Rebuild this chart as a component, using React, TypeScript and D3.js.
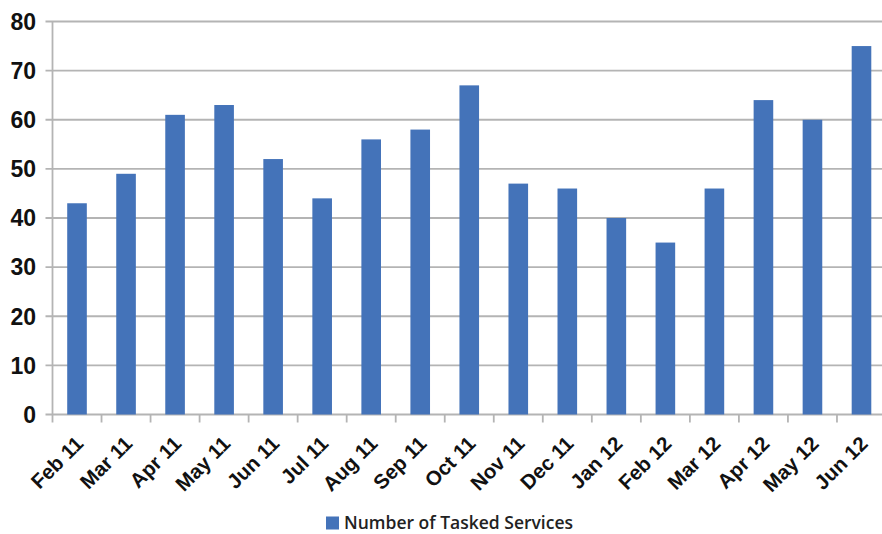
import React from "react";
import * as d3 from "d3";

const categories = ["Feb 11","Mar 11","Apr 11","May 11","Jun 11","Jul 11","Aug 11","Sep 11","Oct 11","Nov 11","Dec 11","Jan 12","Feb 12","Mar 12","Apr 12","May 12","Jun 12"];
const values = [43,49,61,63,52,44,56,58,67,47,46,40,35,46,64,60,75];
const yTicks = [0,10,20,30,40,50,60,70,80];
const seriesName = "Number of Tasked Services";

const W = 882, H = 534;
const left = 52.5, right = 886, top = 21.5, bottom = 414.5;
const barColor = "#4473b9";
const gridColor = "#b4b4b4";

export default function App() {
  const x = d3.scaleBand<string>().domain(categories).range([left, right]).paddingInner(0.6).paddingOuter(0.3);
  const y = d3.scaleLinear().domain([0, 80]).range([bottom, top]);
  const step = x.step();
  const font = "'Liberation Sans', Arial, sans-serif";
  return (
    <svg width={W} height={H} style={{ position: "absolute", left: 0, top: 0, background: "#fff" }} fontFamily={font}>
      {yTicks.map(t => (
        <g key={t}>
          <line x1={left - 7} x2={W} y1={y(t)} y2={y(t)} stroke={gridColor} strokeWidth={1.8} />
          <text x={36} y={y(t)} dy="0.36em" textAnchor="end" fontSize={23} fontWeight="bold" fill="#111">{t}</text>
        </g>
      ))}
      <line x1={left} x2={left} y1={top} y2={bottom} stroke={gridColor} strokeWidth={1.8} />
      {categories.map((c, i) => (
        <line key={"t" + i} x1={left + i * step} x2={left + i * step} y1={bottom} y2={bottom + 8} stroke={gridColor} strokeWidth={1.8} />
      ))}
      {categories.map((c, i) => (
        <rect key={c} x={x(c)} y={y(values[i])} width={x.bandwidth()} height={y(0) - y(values[i])} fill={barColor} />
      ))}
      {categories.map(c => {
        const cx = (x(c) as number) + x.bandwidth() / 2;
        return (
          <text key={"l" + c} transform={`translate(${cx + 7.5},${445}) rotate(-45)`} textAnchor="end" fontSize={20.5} fontWeight="bold" fill="#111">{c}</text>
        );
      })}
      <rect x={326} y={516.5} width={13} height={13} fill={barColor} />
      <text x={344} y={529} fontSize={17.5} fill="#222" fontFamily="'Open Sans', sans-serif" fontWeight={600}>{seriesName}</text>
    </svg>
  );
}
